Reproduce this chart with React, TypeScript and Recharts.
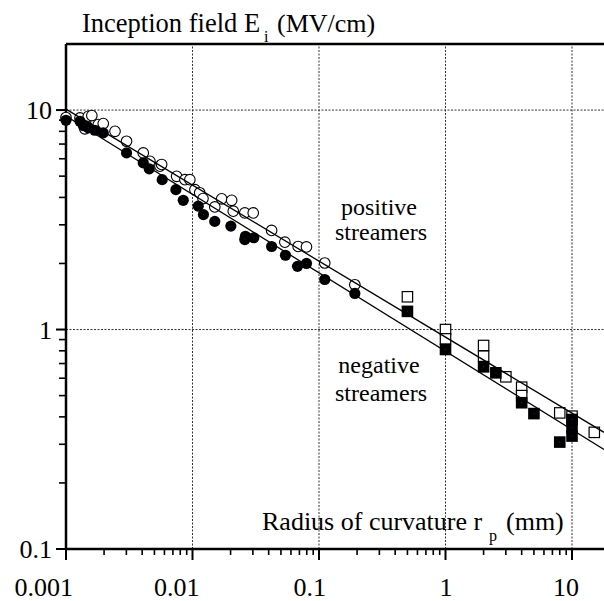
import { ReferenceLine, Scatter, ScatterChart, XAxis, YAxis } from "recharts"

const W = 604
const H = 601
const FONT = "'Liberation Serif', 'Times New Roman', Times, serif"

const X_MIN = 0.001
const X_MAX = 17.9
const Y_MIN = 0.1
const Y_MAX = 20

const xDecades = [0.001, 0.01, 0.1, 1, 10]
const xLabels = ["0.001", "0.01", "0.1", "1", "10"]
const yDecades = [0.1, 1, 10]
const yLabels = ["0.1", "1", "10"]
const xGrid = [0.01, 0.1, 1, 10]
const yGrid = [1, 10]
const minorSteps = [2, 3, 4, 5, 6, 7, 8, 9]

// positive streamers, point electrodes (open circles)
const posR = [0.001, 0.00129, 0.0015, 0.0016, 0.00141, 0.00146, 0.0018, 0.00197, 0.00244, 0.00301, 0.00408, 0.00461, 0.00553, 0.0057, 0.00749, 0.00871, 0.00953, 0.01045, 0.0114, 0.0121, 0.015, 0.017, 0.0204, 0.021, 0.0259, 0.0302, 0.0422, 0.0537, 0.0684, 0.0796, 0.111, 0.192]
const posE = [9.25, 9.21, 9.37, 9.44, 8.21, 8.44, 8.59, 8.68, 8.0, 7.21, 6.38, 5.84, 5.55, 5.65, 4.99, 4.82, 4.82, 4.34, 4.2, 3.95, 3.62, 3.94, 3.88, 3.46, 3.4, 3.4, 2.83, 2.5, 2.39, 2.38, 2.01, 1.6]

// negative streamers, point electrodes (filled circles)
const negR = [0.001, 0.00129, 0.00137, 0.0015, 0.00169, 0.00197, 0.00301, 0.00408, 0.00455, 0.00576, 0.00739, 0.00845, 0.0111, 0.0122, 0.015, 0.0201, 0.0262, 0.0259, 0.0305, 0.0422, 0.0543, 0.0676, 0.0796, 0.111, 0.192]
const negE = [8.98, 8.89, 8.5, 8.3, 8.09, 7.87, 6.38, 5.75, 5.4, 4.82, 4.34, 3.88, 3.65, 3.34, 3.11, 2.96, 2.66, 2.57, 2.62, 2.39, 2.18, 1.94, 2.0, 1.69, 1.46]

// large radii (squares)
const posSqR = [0.5, 1, 1, 2, 2, 3, 4, 4, 8, 10, 15]
const posSqE = [1.41, 1.0, 0.907, 0.846, 0.756, 0.609, 0.546, 0.5, 0.417, 0.403, 0.34]
const negSqR = [0.5, 1, 2, 2.5, 4, 5, 8, 10, 10, 10]
const negSqE = [1.21, 0.811, 0.676, 0.635, 0.464, 0.414, 0.307, 0.389, 0.357, 0.327]

// fitted lines (end points)
const posFitR = [0.001, 17.9]
const posFitE = [10.1, 0.34]
const negFitR = [0.001, 17.9]
const negFitE = [9.4, 0.284]

const toPts = (r: number[], e: number[]) => r.map((v, i) => ({ r: v, e: e[i] }))

const xMinor = xDecades.flatMap((d) => minorSteps.map((k) => k * d)).filter((v) => v < X_MAX)
const yMinor = yDecades.flatMap((d) => minorSteps.map((k) => k * d)).filter((v) => v < Y_MAX)
const xTicks = [...xDecades, ...xMinor]
const yTicks = [...yDecades, ...yMinor]

function XTick({ x, y, payload }: any) {
  const i = xDecades.indexOf(payload.value)
  const major = i >= 0
  return (
    <g>
      <line x1={x} x2={x} y1={y} y2={y + (major ? 11 : 6)} stroke="#000" strokeWidth={major ? 2 : 1.6} />
      {major && (
        <text x={x + 7} y={y + 47} textAnchor="end" fontFamily={FONT} fontSize={26} fill="#000">
          {xLabels[i]}
        </text>
      )}
    </g>
  )
}

function YTick({ x, y, payload }: any) {
  const i = yDecades.indexOf(payload.value)
  const major = i >= 0
  return (
    <g>
      <line x1={x - (major ? 10 : 7)} x2={x} y1={y} y2={y} stroke="#000" strokeWidth={major ? 2 : 1.6} />
      {major && (
        <text x={x - 14} y={y + 9} textAnchor="end" fontFamily={FONT} fontSize={26} fill="#000">
          {yLabels[i]}
        </text>
      )}
    </g>
  )
}

const OpenCircle = ({ cx, cy }: any) => <circle cx={cx} cy={cy} r={5.3} fill="#fff" stroke="#000" strokeWidth={1.1} />
const FilledCircle = ({ cx, cy }: any) => (
  <g>
    <circle cx={cx} cy={cy} r={5.6} fill="#000" />
    <rect x={cx - 0.5} y={cy - 0.5} width={1} height={1} fill="#1a1aa0" />
  </g>
)
const OpenSquare = ({ cx, cy }: any) => (
  <rect x={cx - 5.2} y={cy - 5.2} width={10.4} height={10.4} fill="#fff" stroke="#000" strokeWidth={1.2} />
)
const FilledSquare = ({ cx, cy }: any) => (
  <g>
    <rect x={cx - 5.8} y={cy - 5.8} width={11.6} height={11.6} fill="#000" />
    <rect x={cx - 0.5} y={cy - 0.5} width={1} height={1} fill="#1a1aa0" />
  </g>
)
const NoDot = () => <g />

export default function App() {
  return (
    <div style={{ position: "absolute", left: 0, top: 0, width: W, height: H, background: "#fff" }}>
      <ScatterChart width={W} height={H} margin={{ top: 44, right: 0, bottom: 0, left: 0 }}>
        <XAxis dataKey="r" type="number" scale="log" domain={[X_MIN, X_MAX]} ticks={xTicks} interval={0}
          height={52} tickSize={0} tickMargin={0} tickLine={false} tick={<XTick />}
          axisLine={{ stroke: "#000", strokeWidth: 2.5 }} />
        <YAxis dataKey="e" type="number" scale="log" domain={[Y_MIN, Y_MAX]} ticks={yTicks} interval={0}
          width={66} tickSize={0} tickMargin={0} tickLine={false} tick={<YTick />}
          axisLine={{ stroke: "#000", strokeWidth: 2.5 }} />
        {xGrid.map((v) => (
          <ReferenceLine key={"gx" + v} x={v} stroke="#333" strokeWidth={1} strokeDasharray="2 1.5" />
        ))}
        {yGrid.map((v) => (
          <ReferenceLine key={"gy" + v} y={v} stroke="#333" strokeWidth={1} strokeDasharray="2 1.5" />
        ))}
        <ReferenceLine y={Y_MAX} stroke="#000" strokeWidth={2.5} />
        <Scatter data={toPts(posR, posE)} shape={OpenCircle} isAnimationActive={false} />
        <Scatter data={toPts(negR, negE)} shape={FilledCircle} isAnimationActive={false} />
        <Scatter data={toPts(posSqR, posSqE)} shape={OpenSquare} isAnimationActive={false} />
        <Scatter data={toPts(negSqR, negSqE)} shape={FilledSquare} isAnimationActive={false} />
        <Scatter data={toPts(posFitR, posFitE)} shape={NoDot} line={{ stroke: "#000", strokeWidth: 1.3 }} isAnimationActive={false} />
        <Scatter data={toPts(negFitR, negFitE)} shape={NoDot} line={{ stroke: "#000", strokeWidth: 1.3 }} isAnimationActive={false} />
      </ScatterChart>
      <svg width={W} height={H} style={{ position: "absolute", left: 0, top: 0, pointerEvents: "none" }}
        fill="#000" fontFamily={FONT}>
        <text x={82} y={32} fontSize={26.5}>Inception field E</text>
        <text x={264} y={42} fontSize={16}>i</text>
        <text x={277} y={32} fontSize={26}>(MV/cm)</text>
        <text x={262} y={530} fontSize={26}>Radius of curvature r</text>
        <text x={489} y={541} fontSize={16}>p</text>
        <text x={506} y={530} fontSize={26}>(mm)</text>
        <text x={379} y={215} fontSize={24} textAnchor="middle">positive</text>
        <text x={381} y={240} fontSize={24} textAnchor="middle">streamers</text>
        <text x={379} y={373} fontSize={24} textAnchor="middle">negative</text>
        <text x={381} y={401} fontSize={24} textAnchor="middle">streamers</text>
      </svg>
    </div>
  )
}
